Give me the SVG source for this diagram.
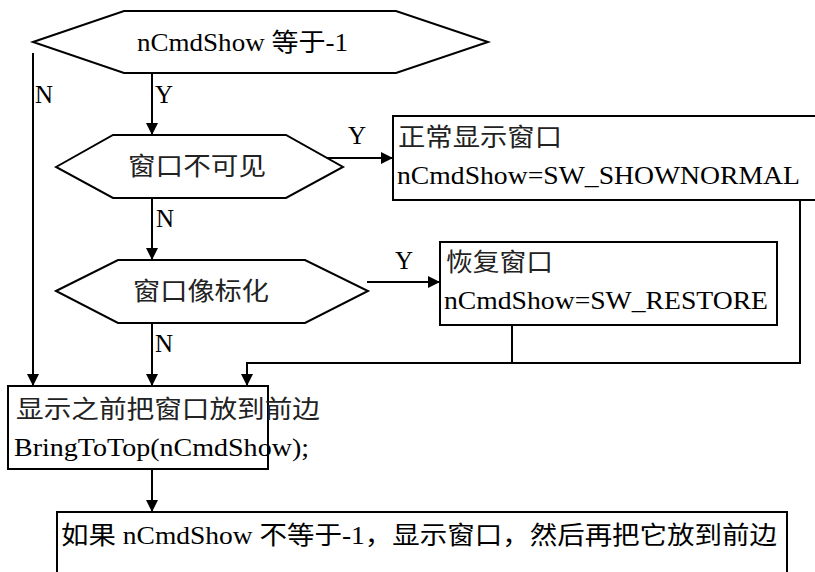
<svg xmlns="http://www.w3.org/2000/svg" width="815" height="572" viewBox="0 0 815 572">
<defs>
<marker id="ah" markerWidth="12" markerHeight="12" refX="12" refY="6" orient="auto" markerUnits="userSpaceOnUse">
<path d="M0,0 L12,6 L0,12 Z" fill="#000"/>
</marker>
<style>
.s{fill:#fff;stroke:#000;stroke-width:2}
.c{fill:none;stroke:#000;stroke-width:2}
text{font-family:'Liberation Serif','Times New Roman','DejaVu Serif','Noto Sans CJK SC',serif;font-size:25px;fill:#000}
.z{fill:#222}
</style>
</defs>
<rect width="815" height="572" fill="#fff"/>
<g id="connectors">
<line class="c" x1="33" y1="53" x2="33" y2="386" marker-end="url(#ah)"/>
<line class="c" x1="152" y1="73" x2="152" y2="135" marker-end="url(#ah)"/>
<line class="c" x1="327" y1="158" x2="393" y2="158" marker-end="url(#ah)"/>
<line class="c" x1="152" y1="198" x2="152" y2="260" marker-end="url(#ah)"/>
<line class="c" x1="367" y1="282" x2="440" y2="282" marker-end="url(#ah)"/>
<line class="c" x1="152" y1="323" x2="152" y2="386" marker-end="url(#ah)"/>
<polyline class="c" points="800,200 800,363 247,363 247,386" marker-end="url(#ah)"/>
<line class="c" x1="512" y1="325" x2="512" y2="363"/>
<line class="c" x1="152" y1="469" x2="152" y2="512" marker-end="url(#ah)"/>
<text x="35" y="103">N</text>
<text x="155" y="103">Y</text>
<text x="348" y="144">Y</text>
<text x="156" y="227">N</text>
<text x="395" y="269">Y</text>
<text x="155" y="352">N</text>
</g>
<g id="n1">
<polygon class="s" points="33,42 124,11 396,11 488,42 396,73 124,73"/>
<text x="137" y="51" textLength="211" lengthAdjust="spacingAndGlyphs">nCmdShow 等于-1</text>
</g>
<g id="n2">
<polygon class="s" points="56,167 113,135 286,135 343,167 286,198 113,198"/>
<text class="z" x="128" y="175" textLength="138" lengthAdjust="spacingAndGlyphs">窗口不可见</text>
</g>
<g id="n3">
<rect class="s" x="393" y="116" width="440" height="84"/>
<text class="z" x="398" y="146" textLength="164" lengthAdjust="spacingAndGlyphs">正常显示窗口</text>
<text x="397" y="184" textLength="403" lengthAdjust="spacingAndGlyphs">nCmdShow=SW_SHOWNORMAL</text>
</g>
<g id="n4">
<polygon class="s" points="56,291 118,260 305,260 368,291 305,323 118,323"/>
<text class="z" x="133" y="300" textLength="136" lengthAdjust="spacingAndGlyphs">窗口像标化</text>
</g>
<g id="n5">
<rect class="s" x="440" y="242" width="337" height="83"/>
<text class="z" x="446" y="271" textLength="107" lengthAdjust="spacingAndGlyphs">恢复窗口</text>
<text x="444" y="309" textLength="324" lengthAdjust="spacingAndGlyphs">nCmdShow=SW_RESTORE</text>
</g>
<g id="n6">
<rect class="s" x="8" y="386" width="260" height="83"/>
<text class="z" x="16" y="418" textLength="304" lengthAdjust="spacingAndGlyphs">显示之前把窗口放到前边</text>
<text x="14" y="456" textLength="295" lengthAdjust="spacingAndGlyphs">BringToTop(nCmdShow);</text>
</g>
<g id="n7">
<rect class="s" x="57" y="512" width="730" height="80"/>
<text x="61" y="544" textLength="716" lengthAdjust="spacingAndGlyphs">如果 nCmdShow 不等于-1，显示窗口，然后再把它放到前边</text>
</g>
</svg>
